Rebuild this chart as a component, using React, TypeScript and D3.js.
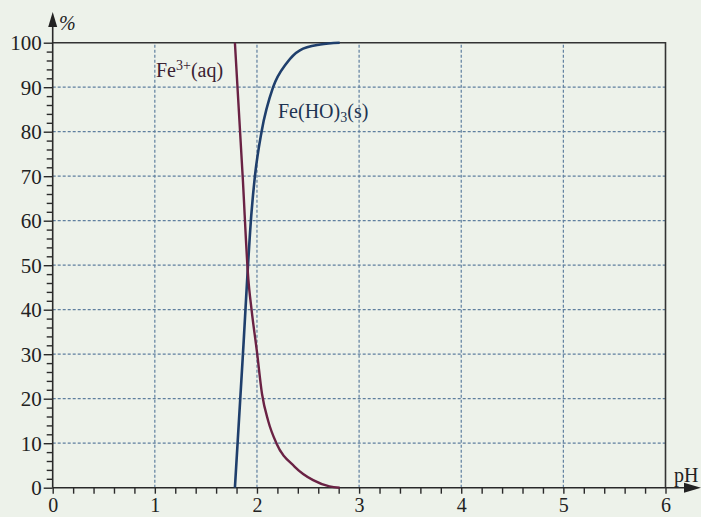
import React, { useEffect, useRef } from 'react';
import * as d3 from 'd3';

// values (pH, %)
const fe3pH = [1.784, 1.86, 1.915, 1.947, 2.0, 2.05, 2.11, 2.19, 2.37, 2.55, 2.71, 2.81];
const fe3Pct = [100, 70, 47, 40, 30.5, 21, 15, 10, 4.7, 1.7, 0.3, 0];
const fehoPH = [1.784, 1.86, 1.947, 1.98, 2.045, 2.158, 2.29, 2.42, 2.62, 2.81];
const fehoPct = [0, 29, 62, 70, 80, 90, 95.4, 98.3, 99.6, 100];

const xTicks = [0, 1, 2, 3, 4, 5, 6];
const yTicks = [0, 10, 20, 30, 40, 50, 60, 70, 80, 90, 100];

const W = 701;
const H = 517;
const serif = '"Liberation Serif", "DejaVu Serif", serif';

export default function App() {
  const ref = useRef<SVGSVGElement>(null);

  useEffect(() => {
    const svg = d3.select(ref.current);
    svg.selectAll('*').remove();

    const x = d3.scaleLinear().domain([0, 6]).range([52.7, 665.5]);
    const y = d3.scaleLinear().domain([0, 100]).range([487.7, 42.7]);

    svg.append('rect').attr('width', W).attr('height', H).attr('fill', '#edf2ea');

    // dotted grid
    const grid = svg.append('g').attr('stroke', '#5f7f9f').attr('stroke-width', 1.2)
      .attr('stroke-dasharray', '3,2');
    grid.selectAll('line.v').data(xTicks.slice(1, -1)).enter().append('line')
      .attr('x1', d => x(d)).attr('x2', d => x(d))
      .attr('y1', y(0)).attr('y2', y(100));
    grid.selectAll('line.h').data(yTicks.slice(1, -1)).enter().append('line')
      .attr('x1', x(0)).attr('x2', x(6))
      .attr('y1', d => y(d)).attr('y2', d => y(d));

    // frame top and right
    svg.append('path')
      .attr('d', `M${x(0)},${y(100)}H${x(6)}V${y(0)}`)
      .attr('fill', 'none').attr('stroke', '#333').attr('stroke-width', 1.6);

    // y axis with minor ticks every 2
    const yAxis = d3.axisLeft(y).tickValues(d3.range(0, 101, 2)).tickSize(6)
      .tickFormat(d => (+d % 10 === 0 ? String(d) : ''));
    const gy = svg.append('g').attr('transform', `translate(${x(0)},0)`).call(yAxis);
    gy.select('.domain').remove();
    gy.selectAll('line').attr('stroke', '#2a2a2a').attr('stroke-width', 1.4)
      .attr('x2', (d: any) => (d % 10 === 0 ? -9 : -6));
    gy.selectAll('text').attr('x', -11).attr('dy', '0.34em')
      .attr('font-family', serif).attr('font-size', 21).attr('fill', '#222');

    // x axis with minor ticks every 0.2
    const xAxis = d3.axisBottom(x).tickValues(d3.range(0, 30.5, 1).map(v => v / 5)).tickSize(6)
      .tickFormat(d => (Math.abs(+d - Math.round(+d)) < 1e-6 ? String(Math.round(+d)) : ''));
    const gx = svg.append('g').attr('transform', `translate(0,${y(0)})`).call(xAxis);
    gx.select('.domain').remove();
    gx.selectAll('line').attr('stroke', '#2a2a2a').attr('stroke-width', 1.4);
    gx.selectAll('text').attr('y', 10).attr('dy', '0.71em')
      .attr('font-family', serif).attr('font-size', 20).attr('fill', '#222');

    // axis lines with arrows
    svg.append('line').attr('x1', x(0)).attr('x2', 690).attr('y1', y(0)).attr('y2', y(0))
      .attr('stroke', '#2a2a2a').attr('stroke-width', 1.6);
    svg.append('path').attr('d', `M701,${y(0)}L684,${y(0) - 5}L684,${y(0) + 5}Z`).attr('fill', '#222');
    svg.append('line').attr('x1', x(0)).attr('x2', x(0)).attr('y1', y(0)).attr('y2', 22)
      .attr('stroke', '#2a2a2a').attr('stroke-width', 1.6);
    svg.append('path').attr('d', `M${x(0)},12L${x(0) - 4.5},27L${x(0) + 4.5},27Z`).attr('fill', '#222');

    svg.append('text').attr('x', 59).attr('y', 30).text('%')
      .attr('font-family', serif).attr('font-style', 'italic').attr('font-size', 20).attr('fill', '#222');
    svg.append('text').attr('x', 674).attr('y', 482).text('pH')
      .attr('font-family', serif).attr('font-size', 20).attr('fill', '#222');

    // curves
    const line = d3.line<[number, number]>()
      .x(d => x(d[0])).y(d => y(d[1])).curve(d3.curveMonotoneX);
    svg.append('path').datum(fehoPH.map((p, i) => [p, fehoPct[i]] as [number, number]))
      .attr('d', line).attr('fill', 'none').attr('stroke', '#1f3f6c').attr('stroke-width', 2.6);
    svg.append('path').datum(fe3pH.map((p, i) => [p, fe3Pct[i]] as [number, number]))
      .attr('d', line).attr('fill', 'none').attr('stroke', '#6a2244').attr('stroke-width', 2.4);

    // curve labels
    const l1 = svg.append('text').attr('x', 156).attr('y', 77)
      .attr('font-family', serif).attr('font-size', 20).attr('fill', '#3a2233');
    l1.append('tspan').text('Fe');
    l1.append('tspan').text('3+').attr('font-size', 14).attr('dy', -7);
    l1.append('tspan').text('(aq)').attr('dy', 7);

    const l2 = svg.append('text').attr('x', 278).attr('y', 118)
      .attr('font-family', serif).attr('font-size', 20).attr('fill', '#1d3452');
    l2.append('tspan').text('Fe(HO)');
    l2.append('tspan').text('3').attr('font-size', 14).attr('dy', 4);
    l2.append('tspan').text('(s)').attr('dy', -4);
  }, []);

  return (
    <svg ref={ref} width={W} height={H}
      style={{ position: 'absolute', left: 0, top: 0, display: 'block' }} />
  );
}
